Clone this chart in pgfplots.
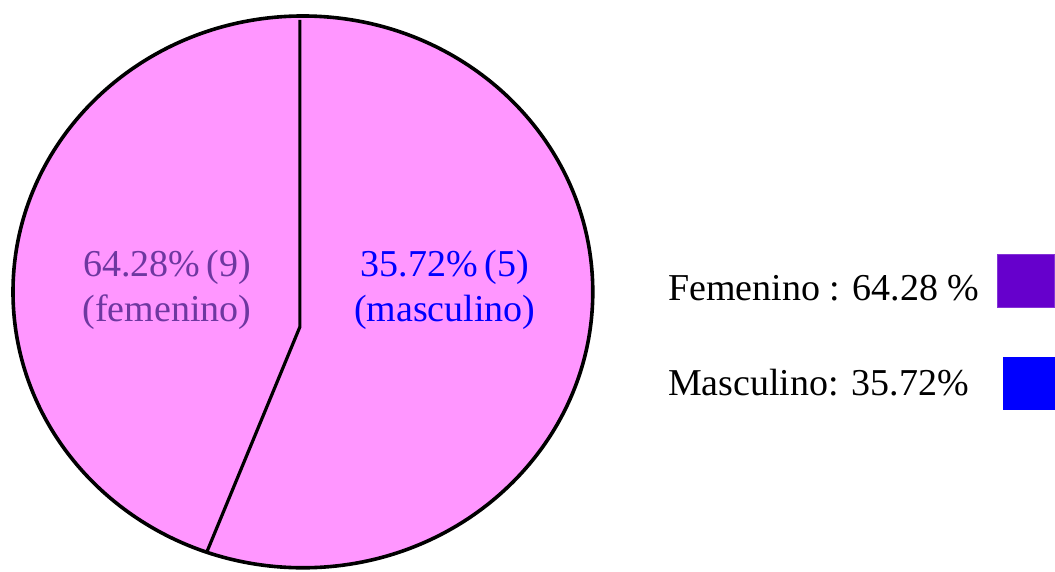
\documentclass[border=0pt]{standalone}
\usepackage{pgfplots}
\pgfplotsset{compat=1.18}
\usepackage{fontspec}
\setmainfont{Liberation Serif}
\definecolor{piepink}{RGB}{255,150,255}
\definecolor{femtext}{RGB}{110,55,160}
\definecolor{femsq}{RGB}{102,0,204}
\definecolor{mastext}{RGB}{0,0,255}
\begin{document}
\begin{tikzpicture}
% canvas in pixel units of the reference, y measured upward
\begin{axis}[
    width=527.5pt, height=286pt,
    scale only axis,
    xmin=0, xmax=1055,
    ymin=0, ymax=572,
    hide axis,
    clip=false,
]
% keep the whole canvas as the bounding box
\path (axis cs:0,0) rectangle (axis cs:1055,572);
% pie body
\draw[line width=1.8pt, fill=piepink] (axis cs:303,280) ellipse [x radius=290, y radius=276];
% slice boundary
\addplot[line width=1.6pt, black, no markers] coordinates {
    (300,552) (300,245) (207,20)
};
% legend swatches
\addplot[fill=femsq, draw=femsq!80!white, line width=0.4pt] coordinates {
    (998,264) (1055,264) (1055,317) (998,317)
} -- cycle;
\addplot[fill=blue, draw=none] coordinates {
    (1003,162) (1055,162) (1055,215) (1003,215)
} -- cycle;
% slice labels
\node[text=femtext, align=center, font=\fontsize{19}{22.5}\selectfont] at (axis cs:167,282) {64.28\%\,(9)\\(femenino)};
\node[text=mastext, align=center, font=\fontsize{19}{22.5}\selectfont] at (axis cs:445,282) {35.72\%\,(5)\\(masculino)};
% legend text
\node[anchor=west, inner sep=0pt, font=\fontsize{19}{22.5}\selectfont] at (axis cs:668,284) {Femenino : 64.28 \%};
\node[anchor=west, inner sep=0pt, font=\fontsize{19}{22.5}\selectfont] at (axis cs:668,189) {Masculino: 35.72\%};
\end{axis}
\end{tikzpicture}
\end{document}
